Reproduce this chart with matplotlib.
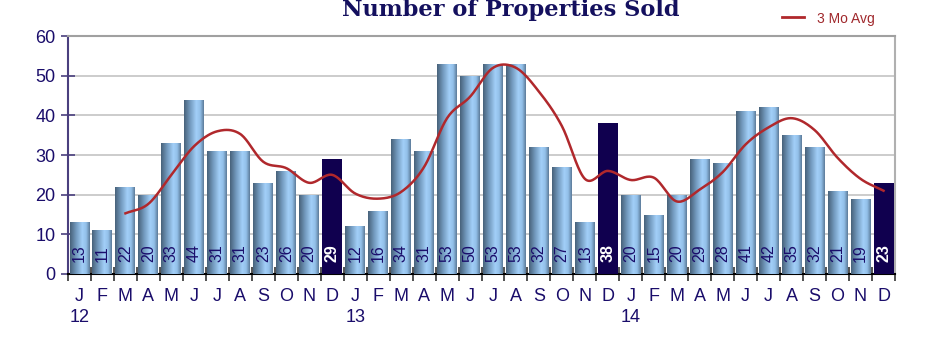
import numpy as np
import matplotlib.pyplot as plt
from matplotlib.colors import LinearSegmentedColormap

plt.rcParams['font.family'] = ['Liberation Sans', 'DejaVu Sans']

# Data
months = list('JFMAMJJASOND') * 3
years = ['12', '13', '14']
sold = [13, 11, 22, 20, 33, 44, 31, 31, 23, 26, 20, 29,
        12, 16, 34, 31, 53, 50, 53, 53, 32, 27, 13, 38,
        20, 15, 20, 29, 28, 41, 42, 35, 32, 21, 19, 23]
# 3 month average, starts with March 2012
avg3 = [15.3, 17.7, 25.0, 32.3, 36.0, 35.3, 28.3, 26.7, 23.0, 25.0,
        20.3, 19.0, 20.7, 27.0, 39.3, 44.7, 52.0, 52.0, 46.0, 37.3, 24.0, 26.0,
        23.7, 24.3, 18.3, 21.3, 25.7, 32.7, 37.0, 39.3, 36.3, 29.3, 24.0, 21.0]

navy = '#1a0d6b'
dec_color = '#10004f'


def smooth(xs, ys, n=20):
    # catmull-rom style smoothing like a spreadsheet "smoothed line"
    xs = np.asarray(xs, float)
    ys = np.asarray(ys, float)
    px = np.concatenate([[2 * xs[0] - xs[1]], xs, [2 * xs[-1] - xs[-2]]])
    py = np.concatenate([[2 * ys[0] - ys[1]], ys, [2 * ys[-1] - ys[-2]]])
    ox, oy = [], []
    t = np.linspace(0, 1, n, endpoint=False)
    for i in range(1, len(px) - 2):
        for p, o in ((px, ox), (py, oy)):
            p0, p1, p2, p3 = p[i - 1], p[i], p[i + 1], p[i + 2]
            o.extend(0.5 * (2 * p1 + (-p0 + p2) * t + (2 * p0 - 5 * p1 + 4 * p2 - p3) * t ** 2
                            + (-p0 + 3 * p1 - 3 * p2 + p3) * t ** 3))
    ox.append(xs[-1])
    oy.append(ys[-1])
    return np.array(ox), np.array(oy)


fig = plt.figure(figsize=(9.46, 3.54), dpi=100)
ax = fig.add_axes([0.0719, 0.226, 0.8742, 0.672])

x = np.arange(len(sold))
width = 0.87
bars = ax.bar(x, sold, width=width, color='none', edgecolor='none', zorder=3)

cyl = LinearSegmentedColormap.from_list('cyl', [
    (0.0, '#48627a'), (0.3, '#7299bd'), (0.62, '#a2cff8'), (0.82, '#92bfe8'), (1.0, '#5d7c9b')])
grad = np.linspace(0, 1, 64).reshape(1, -1)

for i, (b, v) in enumerate(zip(bars, sold)):
    is_dec = i % 12 == 11
    if is_dec:
        b.set_facecolor(dec_color)
    else:
        im = ax.imshow(grad, cmap=cyl, aspect='auto', zorder=3,
                       extent=[b.get_x(), b.get_x() + b.get_width(), 0, v])
        im.set_clip_path(b)
    ax.text(i, 2.9, str(v), rotation=90, ha='center', va='bottom', zorder=5,
            fontsize=11.5, color='white' if is_dec else navy,
            fontweight='bold' if is_dec else 'normal')

lx, ly = smooth(x[2:], avg3)
ax.plot(lx, ly, color='#b0282c', lw=1.8, zorder=6)

ax.set_xlim(-0.5, len(sold) - 0.5)
ax.set_ylim(0, 60)
ax.set_yticks(range(0, 61, 10))
ax.yaxis.grid(True, color='#c4c4c4', lw=1.2, zorder=0)
ax.set_axisbelow(True)
ax.tick_params(axis='y', direction='inout', length=10, width=1.2, color='#4a3f7e',
               labelsize=13, labelcolor=navy, pad=4)

ax.set_xticks(np.arange(-0.5, len(sold), 1.0))
ax.set_xticklabels([])
ax.tick_params(axis='x', direction='inout', length=10, width=1.2, color='#333333')
for i, m in enumerate(months):
    ax.text(i, -5.6, m, ha='center', va='center', fontsize=13, color=navy)
for k, yr in enumerate(years):
    ax.text(12 * k, -11.0, yr, ha='center', va='center', fontsize=13, color=navy)

ax.spines['left'].set_color('#4a3f7e')
ax.spines['left'].set_linewidth(1.5)
ax.spines['bottom'].set_color('black')
ax.spines['bottom'].set_linewidth(1.5)
ax.spines['top'].set_color('#a0a0a0')
ax.spines['top'].set_linewidth(1.5)
ax.spines['right'].set_color('#b0b0b0')
ax.spines['right'].set_linewidth(1.5)

# title sits close to the top edge, as in the original
fig.text(511 / 946, 1 - 16 / 354, 'Number of Properties Sold', ha='center', va='baseline',
         fontsize=16.2, fontweight='bold', color='#14105e', family='DejaVu Serif')

# legend drawn by hand
fig.add_artist(plt.Line2D([782 / 946, 804 / 946], [1 - 17 / 354] * 2, color='#b0282c', lw=2))
fig.text(817 / 946, 1 - 19 / 354, '3 Mo Avg', ha='left', va='center', fontsize=10, color='#a0282c')

fig.savefig('out.png', dpi=100)
